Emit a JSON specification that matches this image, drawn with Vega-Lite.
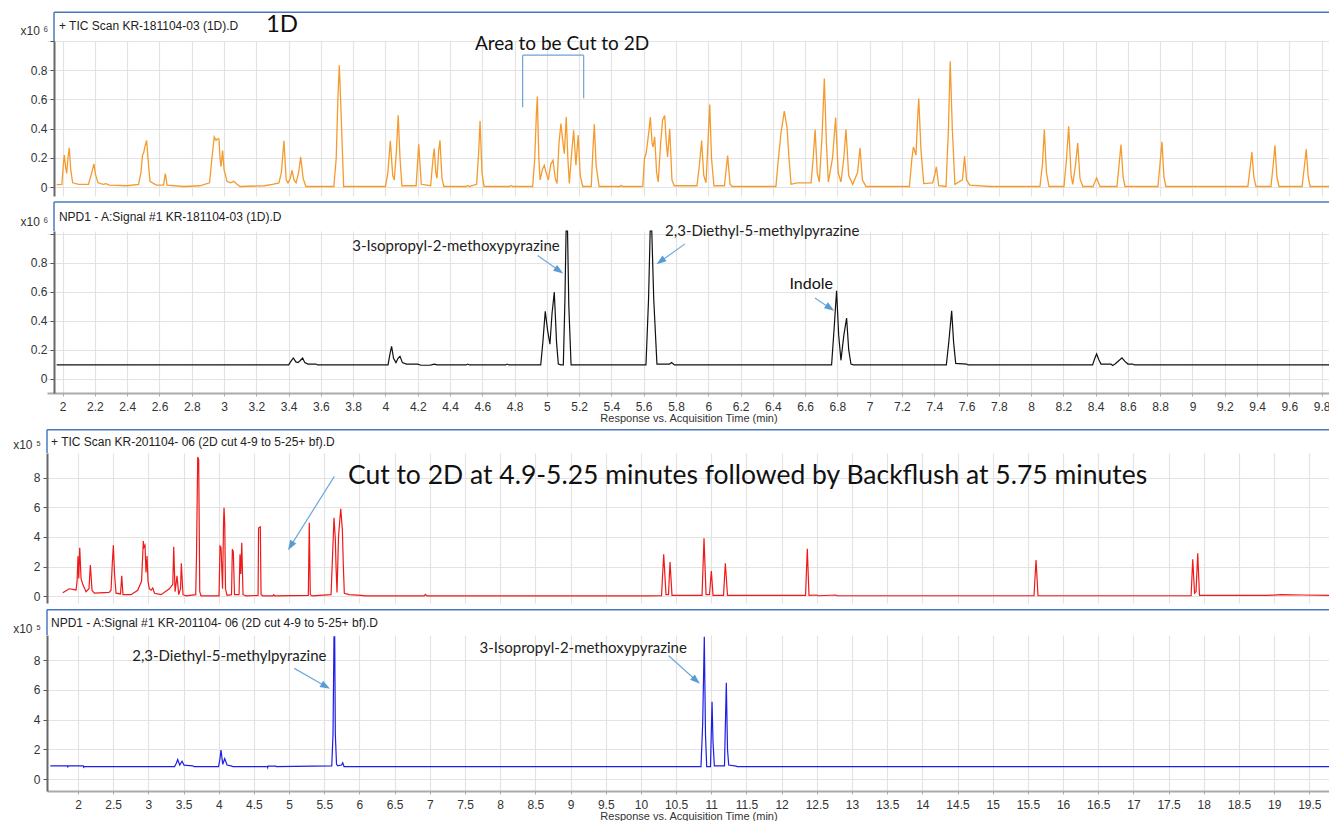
{
"$schema": "https://vega.github.io/schema/vega-lite/v6.json",
"background": "white",
"padding": {"left": 12, "top": 11, "right": 0, "bottom": 0},
"spacing": 5,
"config": {
  "view": {"stroke": null},
  "axis": {"labelFont": "Liberation Sans", "labelFontSize": 12, "labelColor": "#333", "labelOverlap": false, "labelFlush": false, "titleFont": "Liberation Sans", "titleFontSize": 11, "titleFontWeight": "normal", "titleColor": "#333", "gridColor": "#e3e3e3", "gridWidth": 1.2, "tickColor": "#555", "tickSize": 4, "domainColor": "#666", "domainWidth": 2, "labelPadding": 3},
  "text": {"font": "Lato"}
},
"datasets": {
"tic1": [
{"time":1.963,"response":0.018},{"time":1.995,"response":0.02},{"time":2.004,"response":0.15},{"time":2.010,"response":0.22},{"time":2.018,"response":0.14},{"time":2.025,"response":0.095},{"time":2.033,"response":0.2},{"time":2.041,"response":0.27},{"time":2.050,"response":0.12},{"time":2.062,"response":0.03},{"time":2.10,"response":0.02},{"time":2.160,"response":0.02},{"time":2.178,"response":0.09},{"time":2.185,"response":0.12},{"time":2.194,"response":0.16},{"time":2.203,"response":0.09},{"time":2.219,"response":0.03},{"time":2.25,"response":0.02},{"time":2.268,"response":0.025},{"time":2.29,"response":0.015},{"time":2.40,"response":0.01},{"time":2.47,"response":0.02},{"time":2.485,"response":0.1},{"time":2.495,"response":0.22},{"time":2.502,"response":0.235},{"time":2.510,"response":0.28},{"time":2.520,"response":0.32},{"time":2.530,"response":0.18},{"time":2.541,"response":0.04},{"time":2.58,"response":0.015},{"time":2.625,"response":0.015},{"time":2.636,"response":0.094},{"time":2.647,"response":0.015},{"time":2.75,"response":0.005},{"time":2.85,"response":0.01},{"time":2.91,"response":0.03},{"time":2.925,"response":0.2},{"time":2.939,"response":0.345},{"time":2.950,"response":0.32},{"time":2.958,"response":0.33},{"time":2.968,"response":0.33},{"time":2.975,"response":0.2},{"time":2.981,"response":0.14},{"time":2.991,"response":0.25},{"time":3.000,"response":0.12},{"time":3.018,"response":0.04},{"time":3.04,"response":0.03},{"time":3.06,"response":0.04},{"time":3.08,"response":0.02},{"time":3.10,"response":0.005},{"time":3.25,"response":0.01},{"time":3.30,"response":0.02},{"time":3.340,"response":0.03},{"time":3.355,"response":0.1},{"time":3.371,"response":0.317},{"time":3.385,"response":0.05},{"time":3.396,"response":0.03},{"time":3.410,"response":0.06},{"time":3.421,"response":0.116},{"time":3.433,"response":0.05},{"time":3.446,"response":0.03},{"time":3.462,"response":0.1},{"time":3.475,"response":0.207},{"time":3.490,"response":0.06},{"time":3.507,"response":0.005},{"time":3.68,"response":0.005},{"time":3.695,"response":0.2},{"time":3.705,"response":0.6},{"time":3.714,"response":0.834},{"time":3.722,"response":0.6},{"time":3.741,"response":0.005},{"time":4.00,"response":0.005},{"time":4.015,"response":0.1},{"time":4.030,"response":0.317},{"time":4.045,"response":0.08},{"time":4.055,"response":0.05},{"time":4.068,"response":0.25},{"time":4.079,"response":0.492},{"time":4.090,"response":0.2},{"time":4.102,"response":0.01},{"time":4.19,"response":0.01},{"time":4.206,"response":0.294},{"time":4.222,"response":0.02},{"time":4.28,"response":0.01},{"time":4.295,"response":0.2},{"time":4.302,"response":0.265},{"time":4.312,"response":0.1},{"time":4.319,"response":0.06},{"time":4.330,"response":0.25},{"time":4.338,"response":0.32},{"time":4.350,"response":0.06},{"time":4.362,"response":0.005},{"time":4.50,"response":0.005},{"time":4.509,"response":0.012},{"time":4.52,"response":0.005},{"time":4.565,"response":0.02},{"time":4.578,"response":0.25},{"time":4.586,"response":0.453},{"time":4.598,"response":0.1},{"time":4.611,"response":0.005},{"time":4.77,"response":0.005},{"time":4.778,"response":0.012},{"time":4.79,"response":0.005},{"time":4.912,"response":0.005},{"time":4.925,"response":0.2},{"time":4.935,"response":0.5},{"time":4.941,"response":0.62},{"time":4.950,"response":0.2},{"time":4.958,"response":0.05},{"time":4.972,"response":0.12},{"time":4.984,"response":0.15},{"time":4.995,"response":0.1},{"time":5.009,"response":0.05},{"time":5.025,"response":0.16},{"time":5.038,"response":0.185},{"time":5.052,"response":0.06},{"time":5.063,"response":0.025},{"time":5.075,"response":0.3},{"time":5.087,"response":0.435},{"time":5.100,"response":0.3},{"time":5.108,"response":0.23},{"time":5.120,"response":0.48},{"time":5.130,"response":0.2},{"time":5.139,"response":0.025},{"time":5.155,"response":0.25},{"time":5.166,"response":0.39},{"time":5.180,"response":0.15},{"time":5.194,"response":0.356},{"time":5.207,"response":0.08},{"time":5.222,"response":0.005},{"time":5.275,"response":0.005},{"time":5.285,"response":0.25},{"time":5.294,"response":0.43},{"time":5.305,"response":0.15},{"time":5.324,"response":0.005},{"time":5.455,"response":0.005},{"time":5.460,"response":0.012},{"time":5.47,"response":0.005},{"time":5.594,"response":0.005},{"time":5.605,"response":0.2},{"time":5.615,"response":0.23},{"time":5.632,"response":0.38},{"time":5.641,"response":0.48},{"time":5.652,"response":0.3},{"time":5.658,"response":0.275},{"time":5.668,"response":0.344},{"time":5.680,"response":0.1},{"time":5.690,"response":0.036},{"time":5.705,"response":0.3},{"time":5.717,"response":0.458},{"time":5.730,"response":0.49},{"time":5.740,"response":0.3},{"time":5.748,"response":0.207},{"time":5.761,"response":0.4},{"time":5.775,"response":0.05},{"time":5.789,"response":0.01},{"time":5.93,"response":0.01},{"time":5.945,"response":0.15},{"time":5.959,"response":0.32},{"time":5.972,"response":0.08},{"time":5.986,"response":0.03},{"time":5.998,"response":0.3},{"time":6.009,"response":0.565},{"time":6.020,"response":0.2},{"time":6.035,"response":0.01},{"time":6.100,"response":0.01},{"time":6.120,"response":0.216},{"time":6.135,"response":0.02},{"time":6.147,"response":0.005},{"time":6.419,"response":0.005},{"time":6.435,"response":0.2},{"time":6.450,"response":0.367},{"time":6.471,"response":0.52},{"time":6.488,"response":0.41},{"time":6.500,"response":0.2},{"time":6.513,"response":0.02},{"time":6.55,"response":0.03},{"time":6.637,"response":0.03},{"time":6.650,"response":0.2},{"time":6.662,"response":0.394},{"time":6.675,"response":0.1},{"time":6.688,"response":0.036},{"time":6.705,"response":0.35},{"time":6.719,"response":0.743},{"time":6.732,"response":0.3},{"time":6.744,"response":0.036},{"time":6.770,"response":0.2},{"time":6.789,"response":0.477},{"time":6.805,"response":0.1},{"time":6.822,"response":0.036},{"time":6.840,"response":0.2},{"time":6.853,"response":0.397},{"time":6.870,"response":0.08},{"time":6.895,"response":0.02},{"time":6.925,"response":0.1},{"time":6.940,"response":0.27},{"time":6.955,"response":0.05},{"time":6.977,"response":0.005},{"time":7.246,"response":0.005},{"time":7.262,"response":0.2},{"time":7.271,"response":0.276},{"time":7.287,"response":0.22},{"time":7.296,"response":0.45},{"time":7.304,"response":0.606},{"time":7.318,"response":0.25},{"time":7.335,"response":0.025},{"time":7.390,"response":0.03},{"time":7.402,"response":0.08},{"time":7.413,"response":0.139},{"time":7.428,"response":0.01},{"time":7.473,"response":0.005},{"time":7.488,"response":0.4},{"time":7.499,"response":0.862},{"time":7.512,"response":0.4},{"time":7.528,"response":0.02},{"time":7.575,"response":0.05},{"time":7.588,"response":0.212},{"time":7.600,"response":0.05},{"time":7.62,"response":0.015},{"time":7.75,"response":0.005},{"time":8.055,"response":0.005},{"time":8.070,"response":0.15},{"time":8.082,"response":0.394},{"time":8.095,"response":0.1},{"time":8.111,"response":0.005},{"time":8.204,"response":0.005},{"time":8.220,"response":0.2},{"time":8.233,"response":0.417},{"time":8.248,"response":0.08},{"time":8.258,"response":0.02},{"time":8.275,"response":0.15},{"time":8.289,"response":0.303},{"time":8.303,"response":0.06},{"time":8.320,"response":0.005},{"time":8.384,"response":0.005},{"time":8.406,"response":0.064},{"time":8.427,"response":0.005},{"time":8.532,"response":0.005},{"time":8.545,"response":0.15},{"time":8.557,"response":0.292},{"time":8.570,"response":0.07},{"time":8.582,"response":0.005},{"time":8.786,"response":0.005},{"time":8.798,"response":0.15},{"time":8.811,"response":0.31},{"time":8.823,"response":0.07},{"time":8.835,"response":0.005},{"time":9.343,"response":0.005},{"time":9.356,"response":0.12},{"time":9.368,"response":0.241},{"time":9.380,"response":0.07},{"time":9.393,"response":0.005},{"time":9.486,"response":0.005},{"time":9.499,"response":0.14},{"time":9.511,"response":0.287},{"time":9.523,"response":0.07},{"time":9.536,"response":0.005},{"time":9.679,"response":0.005},{"time":9.692,"response":0.13},{"time":9.705,"response":0.26},{"time":9.717,"response":0.07},{"time":9.729,"response":0.005},{"time":9.852,"response":0.005}
],
"npd1": [
{"time":1.963,"response":0.094},{"time":3.40,"response":0.094},{"time":3.415,"response":0.12},{"time":3.429,"response":0.142},{"time":3.445,"response":0.115},{"time":3.458,"response":0.11},{"time":3.472,"response":0.125},{"time":3.487,"response":0.142},{"time":3.50,"response":0.11},{"time":3.52,"response":0.1},{"time":3.569,"response":0.1},{"time":3.58,"response":0.094},{"time":4.016,"response":0.094},{"time":4.028,"response":0.17},{"time":4.038,"response":0.223},{"time":4.050,"response":0.14},{"time":4.065,"response":0.11},{"time":4.078,"response":0.14},{"time":4.090,"response":0.154},{"time":4.105,"response":0.11},{"time":4.13,"response":0.1},{"time":4.20,"response":0.1},{"time":4.22,"response":0.092},{"time":4.27,"response":0.092},{"time":4.285,"response":0.094},{"time":4.302,"response":0.1},{"time":4.32,"response":0.094},{"time":4.50,"response":0.094},{"time":4.509,"response":0.1},{"time":4.52,"response":0.094},{"time":4.745,"response":0.094},{"time":4.754,"response":0.1},{"time":4.765,"response":0.094},{"time":4.962,"response":0.094},{"time":4.975,"response":0.25},{"time":4.990,"response":0.464},{"time":5.005,"response":0.33},{"time":5.019,"response":0.237},{"time":5.032,"response":0.45},{"time":5.046,"response":0.597},{"time":5.060,"response":0.25},{"time":5.071,"response":0.1},{"time":5.087,"response":0.094},{"time":5.102,"response":0.094},{"time":5.112,"response":0.55},{"time":5.119,"response":1.02},{"time":5.128,"response":1.02},{"time":5.136,"response":0.5},{"time":5.150,"response":0.094},{"time":5.614,"response":0.094},{"time":5.630,"response":0.55},{"time":5.640,"response":1.02},{"time":5.650,"response":1.02},{"time":5.662,"response":0.55},{"time":5.682,"response":0.1},{"time":5.76,"response":0.1},{"time":5.773,"response":0.11},{"time":5.79,"response":0.094},{"time":6.764,"response":0.094},{"time":6.780,"response":0.35},{"time":6.795,"response":0.607},{"time":6.808,"response":0.3},{"time":6.822,"response":0.126},{"time":6.840,"response":0.3},{"time":6.857,"response":0.418},{"time":6.870,"response":0.2},{"time":6.884,"response":0.1},{"time":6.90,"response":0.094},{"time":7.475,"response":0.094},{"time":7.490,"response":0.25},{"time":7.508,"response":0.469},{"time":7.520,"response":0.25},{"time":7.533,"response":0.105},{"time":7.60,"response":0.1},{"time":7.61,"response":0.094},{"time":8.381,"response":0.094},{"time":8.395,"response":0.14},{"time":8.406,"response":0.17},{"time":8.420,"response":0.13},{"time":8.433,"response":0.1},{"time":8.495,"response":0.1},{"time":8.505,"response":0.09},{"time":8.52,"response":0.1},{"time":8.540,"response":0.12},{"time":8.563,"response":0.143},{"time":8.580,"response":0.12},{"time":8.60,"response":0.1},{"time":8.63,"response":0.1},{"time":8.64,"response":0.094},{"time":9.852,"response":0.094}
],
"tic2": [
{"time":1.783,"response":0.23},{"time":1.876,"response":0.5},{"time":1.972,"response":0.42},{"time":1.986,"response":1.0},{"time":2.000,"response":2.7},{"time":2.010,"response":1.2},{"time":2.024,"response":3.27},{"time":2.043,"response":1.2},{"time":2.067,"response":0.8},{"time":2.114,"response":0.3},{"time":2.156,"response":0.5},{"time":2.175,"response":2.1},{"time":2.199,"response":0.4},{"time":2.232,"response":0.2},{"time":2.441,"response":0.25},{"time":2.469,"response":0.4},{"time":2.487,"response":2.2},{"time":2.502,"response":3.43},{"time":2.519,"response":1.5},{"time":2.540,"response":0.2},{"time":2.604,"response":0.15},{"time":2.621,"response":1.37},{"time":2.639,"response":0.1},{"time":2.753,"response":0.1},{"time":2.848,"response":0.4},{"time":2.903,"response":1.0},{"time":2.928,"response":3.72},{"time":2.938,"response":3.3},{"time":2.952,"response":3.43},{"time":2.966,"response":1.6},{"time":2.981,"response":2.7},{"time":2.995,"response":1.0},{"time":3.013,"response":0.5},{"time":3.038,"response":0.4},{"time":3.062,"response":0.55},{"time":3.087,"response":0.2},{"time":3.180,"response":0.1},{"time":3.298,"response":0.5},{"time":3.347,"response":0.8},{"time":3.360,"response":3.34},{"time":3.379,"response":0.3},{"time":3.407,"response":1.37},{"time":3.431,"response":0.1},{"time":3.457,"response":0.5},{"time":3.468,"response":2.22},{"time":3.492,"response":0.1},{"time":3.535,"response":0.02},{"time":3.673,"response":0.1},{"time":3.684,"response":2.8},{"time":3.701,"response":9.39},{"time":3.715,"response":9.2},{"time":3.730,"response":0.3},{"time":3.748,"response":0.02},{"time":4.004,"response":0.02},{"time":4.018,"response":3.38},{"time":4.032,"response":3.3},{"time":4.054,"response":0.5},{"time":4.068,"response":4.9},{"time":4.075,"response":5.96},{"time":4.085,"response":4.9},{"time":4.096,"response":0.5},{"time":4.118,"response":0.05},{"time":4.182,"response":0.1},{"time":4.193,"response":3.16},{"time":4.207,"response":3.0},{"time":4.224,"response":0.1},{"time":4.288,"response":0.1},{"time":4.302,"response":2.82},{"time":4.314,"response":1.5},{"time":4.327,"response":3.6},{"time":4.345,"response":0.1},{"time":4.388,"response":0.02},{"time":4.559,"response":0.05},{"time":4.566,"response":4.6},{"time":4.591,"response":4.68},{"time":4.601,"response":0.1},{"time":4.629,"response":0.02},{"time":4.770,"response":0.02},{"time":4.781,"response":0.1},{"time":4.795,"response":0.02},{"time":5.273,"response":0.05},{"time":5.287,"response":4.95},{"time":5.301,"response":0.1},{"time":5.326,"response":0.02},{"time":5.596,"response":0.1},{"time":5.620,"response":3.05},{"time":5.638,"response":5.29},{"time":5.657,"response":3.83},{"time":5.667,"response":2.0},{"time":5.681,"response":0.25},{"time":5.702,"response":4.0},{"time":5.714,"response":4.73},{"time":5.734,"response":5.9},{"time":5.757,"response":4.5},{"time":5.771,"response":2.0},{"time":5.785,"response":0.2},{"time":5.852,"response":0.1},{"time":6.022,"response":0.05},{"time":6.079,"response":0.02},{"time":6.922,"response":0.02},{"time":6.936,"response":0.12},{"time":6.960,"response":0.02},{"time":10.10,"response":0.02},{"time":10.293,"response":0.03},{"time":10.324,"response":2.82},{"time":10.357,"response":0.1},{"time":10.392,"response":0.1},{"time":10.414,"response":2.31},{"time":10.442,"response":0.05},{"time":10.869,"response":0.05},{"time":10.897,"response":3.9},{"time":10.926,"response":0.1},{"time":10.975,"response":0.1},{"time":11.001,"response":1.7},{"time":11.025,"response":0.05},{"time":11.174,"response":0.05},{"time":11.200,"response":2.22},{"time":11.231,"response":0.05},{"time":12.340,"response":0.05},{"time":12.365,"response":3.2},{"time":12.389,"response":0.05},{"time":12.50,"response":0.08},{"time":12.52,"response":0.03},{"time":12.77,"response":0.08},{"time":12.79,"response":0.03},{"time":15.587,"response":0.03},{"time":15.616,"response":2.44},{"time":15.644,"response":0.03},{"time":17.820,"response":0.03},{"time":17.843,"response":2.49},{"time":17.869,"response":0.2},{"time":17.890,"response":0.3},{"time":17.914,"response":2.89},{"time":17.939,"response":0.05},{"time":18.3,"response":0.06},{"time":18.9,"response":0.05},{"time":19.1,"response":0.1},{"time":19.4,"response":0.08},{"time":19.794,"response":0.06}
],
"npd2": [
{"time":1.606,"response":0.9},{"time":1.85,"response":0.9},{"time":1.854,"response":0.8},{"time":1.86,"response":0.9},{"time":2.075,"response":0.9},{"time":2.081,"response":0.8},{"time":2.09,"response":0.85},{"time":3.372,"response":0.85},{"time":3.395,"response":1.05},{"time":3.417,"response":1.32},{"time":3.445,"response":0.95},{"time":3.478,"response":1.21},{"time":3.507,"response":0.95},{"time":3.630,"response":0.9},{"time":3.649,"response":0.85},{"time":3.997,"response":0.85},{"time":4.015,"response":1.3},{"time":4.032,"response":1.95},{"time":4.057,"response":1.0},{"time":4.085,"response":1.39},{"time":4.118,"response":0.95},{"time":4.175,"response":0.9},{"time":4.203,"response":0.85},{"time":4.69,"response":0.85},{"time":4.696,"response":0.78},{"time":4.70,"response":0.88},{"time":4.814,"response":0.88},{"time":4.82,"response":0.85},{"time":5.606,"response":0.9},{"time":5.624,"response":3.0},{"time":5.638,"response":9.55},{"time":5.648,"response":9.55},{"time":5.657,"response":3.0},{"time":5.674,"response":1.0},{"time":5.691,"response":0.9},{"time":5.745,"response":0.95},{"time":5.762,"response":1.1},{"time":5.781,"response":0.85},{"time":10.854,"response":0.85},{"time":10.878,"response":3.7},{"time":10.901,"response":9.57},{"time":10.918,"response":3.0},{"time":10.935,"response":0.85},{"time":10.989,"response":0.85},{"time":11.011,"response":5.2},{"time":11.025,"response":2.5},{"time":11.044,"response":0.9},{"time":11.188,"response":0.9},{"time":11.214,"response":6.47},{"time":11.231,"response":2.0},{"time":11.248,"response":0.95},{"time":11.352,"response":0.88},{"time":11.37,"response":0.85},{"time":19.794,"response":0.85}
]
},
"vconcat": [
{
  "width": 1283, "height": 155,
  "layer": [
    {"data": {"name": "tic1"},
     "mark": {"type": "line", "color": "#f59b2e", "strokeWidth": 1.3},
     "encoding": {
       "x": {"field": "time", "type": "quantitative", "scale": {"domain": [1.903, 9.852], "nice": false, "zero": false},
             "axis": {"values": [2,2.2,2.4,2.6,2.8,3,3.2,3.4,3.6,3.8,4,4.2,4.4,4.6,4.8,5,5.2,5.4,5.6,5.8,6,6.2,6.4,6.6,6.8,7,7.2,7.4,7.6,7.8,8,8.2,8.4,8.6,8.8,9,9.2,9.4,9.6,9.8], "tickCount": 200, "grid": true, "labels": false, "ticks": false, "domain": false, "title": null}},
       "y": {"field": "response", "type": "quantitative", "scale": {"domain": [-0.06, 1.0], "nice": false, "zero": false},
             "axis": {"values": [0,0.2,0.4,0.6,0.8,1], "tickCount": 100, "labelOverlap": false, "format": "~g", "labelExpr": "datum.value > 0.9 ? '' : datum.label", "offset": -7, "title": "x10 ⁶", "titleAngle": 0, "titleAlign": "left", "titleBaseline": "middle", "titleX": -34, "titleY": -11, "titleFontSize": 12}}
     }},
    {"data": {"values": [{}]}, "mark": {"type": "rule", "color": "#4a78c0", "strokeWidth": 1.5},
     "encoding": {"x": {"datum": 1.9465}, "x2": {"datum": 9.852}, "y": {"datum": 1.197}}},
    {"data": {"values": [{}]}, "mark": {"type": "rule", "color": "#4a78c0", "strokeWidth": 1.5},
     "encoding": {"x": {"datum": 1.9465}, "y": {"datum": 1.0}, "y2": {"datum": 1.197}}},
    {"data": {"values": [{}]}, "mark": {"type": "text", "text": "+ TIC Scan KR-181104-03 (1D).D", "font": "Liberation Sans", "fontSize": 12, "align": "left", "baseline": "middle", "color": "#222"},
     "encoding": {"x": {"datum": 1.977}, "y": {"datum": 1.101}}},
    {"data": {"values": [{}]}, "mark": {"type": "text", "text": "1D", "fontSize": 24, "align": "center", "baseline": "middle", "color": "#111"},
     "encoding": {"x": {"datum": 3.359}, "y": {"datum": 1.108}}},
    {"data": {"values": [{}]}, "mark": {"type": "text", "text": "Area to be Cut to 2D", "fontSize": 19, "align": "center", "baseline": "middle", "color": "#111"},
     "encoding": {"x": {"datum": 5.094}, "y": {"datum": 0.98}}},
    {"data": {"values": [{}]}, "mark": {"type": "rule", "color": "#6fa0d8", "strokeWidth": 1.2},
     "encoding": {"x": {"datum": 4.85}, "y": {"datum": 0.903}, "y2": {"datum": 0.547}}},
    {"data": {"values": [{}]}, "mark": {"type": "rule", "color": "#6fa0d8", "strokeWidth": 1.2},
     "encoding": {"x": {"datum": 4.85}, "x2": {"datum": 5.228}, "y": {"datum": 0.903}}},
    {"data": {"values": [{}]}, "mark": {"type": "rule", "color": "#6fa0d8", "strokeWidth": 1.2},
     "encoding": {"x": {"datum": 5.228}, "y": {"datum": 0.903}, "y2": {"datum": 0.609}}}
  ]
},
{
  "width": 1283, "height": 162,
  "layer": [
    {"data": {"name": "npd1"},
     "mark": {"type": "line", "color": "#111111", "strokeWidth": 1.2},
     "encoding": {
       "x": {"field": "time", "type": "quantitative", "scale": {"domain": [1.903, 9.852], "nice": false, "zero": false},
             "axis": {"values": [2,2.2,2.4,2.6,2.8,3,3.2,3.4,3.6,3.8,4,4.2,4.4,4.6,4.8,5,5.2,5.4,5.6,5.8,6,6.2,6.4,6.6,6.8,7,7.2,7.4,7.6,7.8,8,8.2,8.4,8.6,8.8,9,9.2,9.4,9.6,9.8], "tickCount": 200, "labelOverlap": false, "format": "~g", "grid": true, "domainColor": "#aaa", "domainWidth": 2, "tickSize": 3, "tickColor": "#aaa", "labelPadding": 5, "title": "Response vs. Acquisition Time (min)", "titlePadding": 0}},
       "y": {"field": "response", "type": "quantitative", "scale": {"domain": [-0.1, 1.02], "nice": false, "zero": false},
             "axis": {"values": [0,0.2,0.4,0.6,0.8,1], "tickCount": 100, "labelOverlap": false, "format": "~g", "labelExpr": "datum.value > 0.9 ? '' : datum.label", "offset": -7, "title": "x10 ⁶", "titleAngle": 0, "titleAlign": "left", "titleBaseline": "middle", "titleX": -34, "titleY": -9.4, "titleFontSize": 12}}
     }},
    {"data": {"values": [{}]}, "mark": {"type": "rule", "color": "#4a78c0", "strokeWidth": 1.5},
     "encoding": {"x": {"datum": 1.9465}, "x2": {"datum": 9.852}, "y": {"datum": 1.22}}},
    {"data": {"values": [{}]}, "mark": {"type": "rule", "color": "#4a78c0", "strokeWidth": 1.5},
     "encoding": {"x": {"datum": 1.9465}, "y": {"datum": 1.02}, "y2": {"datum": 1.22}}},
    {"data": {"values": [{}]}, "mark": {"type": "text", "text": "NPD1 - A:Signal #1 KR-181104-03 (1D).D", "font": "Liberation Sans", "fontSize": 12, "align": "left", "baseline": "middle", "color": "#222"},
     "encoding": {"x": {"datum": 1.977}, "y": {"datum": 1.12}}},
    {"data": {"values": [{}]}, "mark": {"type": "text", "text": "3-Isopropyl-2-methoxypyrazine", "fontSize": 15, "align": "center", "baseline": "middle", "color": "#222"},
     "encoding": {"x": {"datum": 4.437}, "y": {"datum": 0.914}}},
    {"data": {"values": [{}]}, "mark": {"type": "text", "text": "2,3-Diethyl-5-methylpyrazine", "fontSize": 15, "align": "center", "baseline": "middle", "color": "#222"},
     "encoding": {"x": {"datum": 6.334}, "y": {"datum": 1.023}}},
    {"data": {"values": [{}]}, "mark": {"type": "text", "text": "Indole", "fontSize": 16, "align": "center", "baseline": "middle", "color": "#111"},
     "encoding": {"x": {"datum": 6.638}, "y": {"datum": 0.655}}},
    {"data": {"values": [{}]}, "mark": {"type": "rule", "color": "#6fa8dc", "strokeWidth": 1.2},
     "encoding": {"x": {"datum": 4.943}, "y": {"datum": 0.85}, "x2": {"datum": 5.0725}, "y2": {"datum": 0.748}}},
    {"data": {"values": [{}]}, "mark": {"type": "point", "shape": "M0,-1.2L0.75,0.9L-0.75,0.9Z", "filled": true, "opacity": 1, "color": "#5b9bd5", "size": 90, "angle": 125},
     "encoding": {"x": {"datum": 5.0725}, "y": {"datum": 0.748}}},
    {"data": {"values": [{}]}, "mark": {"type": "rule", "color": "#6fa8dc", "strokeWidth": 1.2},
     "encoding": {"x": {"datum": 5.856}, "y": {"datum": 0.931}, "x2": {"datum": 5.7075}, "y2": {"datum": 0.813}}},
    {"data": {"values": [{}]}, "mark": {"type": "point", "shape": "M0,-1.2L0.75,0.9L-0.75,0.9Z", "filled": true, "opacity": 1, "color": "#5b9bd5", "size": 90, "angle": 234.5},
     "encoding": {"x": {"datum": 5.7075}, "y": {"datum": 0.813}}},
    {"data": {"values": [{}]}, "mark": {"type": "rule", "color": "#6fa8dc", "strokeWidth": 1.2},
     "encoding": {"x": {"datum": 6.661}, "y": {"datum": 0.556}, "x2": {"datum": 6.751}, "y2": {"datum": 0.49}}},
    {"data": {"values": [{}]}, "mark": {"type": "point", "shape": "M0,-1.2L0.75,0.9L-0.75,0.9Z", "filled": true, "opacity": 1, "color": "#5b9bd5", "size": 90, "angle": 123.3},
     "encoding": {"x": {"datum": 6.751}, "y": {"datum": 0.49}}}
  ]
},
{
  "width": 1283, "height": 150,
  "layer": [
    {"data": {"name": "tic2"},
     "mark": {"type": "line", "color": "#f01818", "strokeWidth": 1.2},
     "encoding": {
       "x": {"field": "time", "type": "quantitative", "scale": {"domain": [1.559, 19.794], "nice": false, "zero": false},
             "axis": {"values": [2,2.5,3,3.5,4,4.5,5,5.5,6,6.5,7,7.5,8,8.5,9,9.5,10,10.5,11,11.5,12,12.5,13,13.5,14,14.5,15,15.5,16,16.5,17,17.5,18,18.5,19,19.5], "tickCount": 200, "grid": true, "labels": false, "ticks": false, "domain": false, "title": null}},
       "y": {"field": "response", "type": "quantitative", "scale": {"domain": [-0.46, 9.657], "nice": false, "zero": false},
             "axis": {"values": [0,2,4,6,8], "tickCount": 100, "labelOverlap": false, "format": "~g", "title": "x10 ⁵", "titleAngle": 0, "titleAlign": "left", "titleBaseline": "middle", "titleX": -34.3, "titleY": -8.3, "titleFontSize": 12}}
     }},
    {"data": {"values": [{}]}, "mark": {"type": "rule", "color": "#4a78c0", "strokeWidth": 1.5},
     "encoding": {"x": {"datum": 1.559}, "x2": {"datum": 19.794}, "y": {"datum": 11.228}}},
    {"data": {"values": [{}]}, "mark": {"type": "rule", "color": "#4a78c0", "strokeWidth": 1.5},
     "encoding": {"x": {"datum": 1.559}, "y": {"datum": 9.657}, "y2": {"datum": 11.228}}},
    {"data": {"values": [{}]}, "mark": {"type": "text", "text": "+ TIC Scan KR-201104- 06 (2D cut 4-9 to 5-25+ bf).D", "font": "Liberation Sans", "fontSize": 12, "align": "left", "baseline": "middle", "color": "#222"},
     "encoding": {"x": {"datum": 1.616}, "y": {"datum": 10.42}}},
    {"data": {"values": [{}]}, "mark": {"type": "text", "text": "Cut to 2D at 4.9-5.25 minutes followed by Backflush at 5.75 minutes", "fontSize": 26.5, "align": "center", "baseline": "middle", "color": "#111"},
     "encoding": {"x": {"datum": 11.515}, "y": {"datum": 8.13}}},
    {"data": {"values": [{}]}, "mark": {"type": "rule", "color": "#6fa8dc", "strokeWidth": 1.2},
     "encoding": {"x": {"datum": 5.643}, "y": {"datum": 8.08}, "x2": {"datum": 5.027}, "y2": {"datum": 3.43}}},
    {"data": {"values": [{}]}, "mark": {"type": "point", "shape": "M0,-1.2L0.75,0.9L-0.75,0.9Z", "filled": true, "opacity": 1, "color": "#5b9bd5", "size": 90, "angle": 212.1},
     "encoding": {"x": {"datum": 5.027}, "y": {"datum": 3.43}}}
  ]
},
{
  "width": 1283, "height": 156,
  "layer": [
    {"data": {"name": "npd2"},
     "mark": {"type": "line", "color": "#1e1ee6", "strokeWidth": 1.2},
     "encoding": {
       "x": {"field": "time", "type": "quantitative", "scale": {"domain": [1.559, 19.794], "nice": false, "zero": false},
             "axis": {"values": [2,2.5,3,3.5,4,4.5,5,5.5,6,6.5,7,7.5,8,8.5,9,9.5,10,10.5,11,11.5,12,12.5,13,13.5,14,14.5,15,15.5,16,16.5,17,17.5,18,18.5,19,19.5], "tickCount": 200, "labelOverlap": false, "format": "~g", "grid": true, "domainColor": "#aaa", "domainWidth": 2, "tickSize": 3, "tickColor": "#aaa", "labelPadding": 5, "title": "Response vs. Acquisition Time (min)", "titlePadding": 0}},
       "y": {"field": "response", "type": "quantitative", "scale": {"domain": [-0.79, 9.68], "nice": false, "zero": false},
             "axis": {"values": [0,2,4,6,8], "tickCount": 100, "labelOverlap": false, "format": "~g", "title": "x10 ⁵", "titleAngle": 0, "titleAlign": "left", "titleBaseline": "middle", "titleX": -34.3, "titleY": -6.6, "titleFontSize": 12}}
     }},
    {"data": {"values": [{}]}, "mark": {"type": "rule", "color": "#4a78c0", "strokeWidth": 1.5},
     "encoding": {"x": {"datum": 1.559}, "x2": {"datum": 19.794}, "y": {"datum": 11.378}}},
    {"data": {"values": [{}]}, "mark": {"type": "rule", "color": "#4a78c0", "strokeWidth": 1.5},
     "encoding": {"x": {"datum": 1.559}, "y": {"datum": 9.68}, "y2": {"datum": 11.378}}},
    {"data": {"values": [{}]}, "mark": {"type": "text", "text": "NPD1 - A:Signal #1 KR-201104- 06 (2D cut 4-9 to 5-25+ bf).D", "font": "Liberation Sans", "fontSize": 12, "align": "left", "baseline": "middle", "color": "#222"},
     "encoding": {"x": {"datum": 1.616}, "y": {"datum": 10.506}}},
    {"data": {"values": [{}]}, "mark": {"type": "text", "text": "2,3-Diethyl-5-methylpyrazine", "fontSize": 15, "align": "center", "baseline": "middle", "color": "#222"},
     "encoding": {"x": {"datum": 4.15}, "y": {"datum": 8.29}}},
    {"data": {"values": [{}]}, "mark": {"type": "text", "text": "3-Isopropyl-2-methoxypyrazine", "fontSize": 15, "align": "center", "baseline": "middle", "color": "#222"},
     "encoding": {"x": {"datum": 9.18}, "y": {"datum": 8.81}}},
    {"data": {"values": [{}]}, "mark": {"type": "rule", "color": "#6fa8dc", "strokeWidth": 1.2},
     "encoding": {"x": {"datum": 5.074}, "y": {"datum": 7.44}, "x2": {"datum": 5.511}, "y2": {"datum": 6.26}}},
    {"data": {"values": [{}]}, "mark": {"type": "point", "shape": "M0,-1.2L0.75,0.9L-0.75,0.9Z", "filled": true, "opacity": 1, "color": "#5b9bd5", "size": 90, "angle": 119.7},
     "encoding": {"x": {"datum": 5.511}, "y": {"datum": 6.26}}},
    {"data": {"values": [{}]}, "mark": {"type": "rule", "color": "#6fa8dc", "strokeWidth": 1.2},
     "encoding": {"x": {"datum": 10.395}, "y": {"datum": 8.29}, "x2": {"datum": 10.778}, "y2": {"datum": 6.66}}},
    {"data": {"values": [{}]}, "mark": {"type": "point", "shape": "M0,-1.2L0.75,0.9L-0.75,0.9Z", "filled": true, "opacity": 1, "color": "#5b9bd5", "size": 90, "angle": 132.2},
     "encoding": {"x": {"datum": 10.778}, "y": {"datum": 6.66}}}
  ]
}
]
}
